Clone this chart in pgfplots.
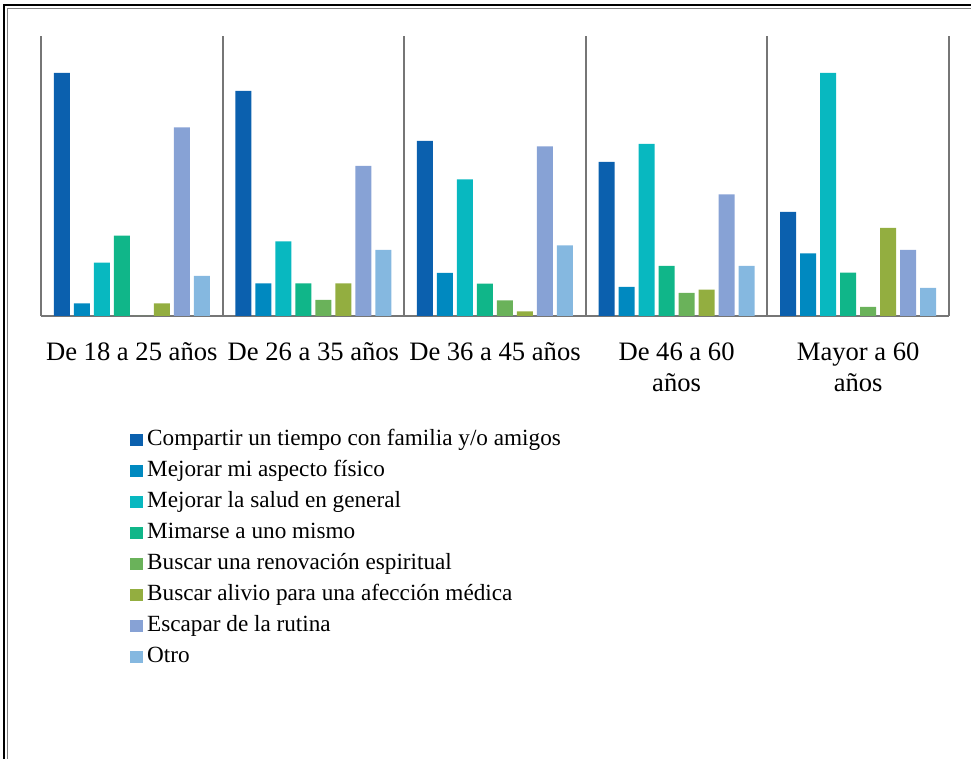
\documentclass[border=0pt]{standalone}
\usepackage{pgfplots}
\pgfplotsset{compat=1.18}
\usepackage{fontspec}
\setmainfont{Liberation Serif}

\definecolor{cA}{HTML}{0B60AE}
\definecolor{cB}{HTML}{0089C0}
\definecolor{cC}{HTML}{08B8C0}
\definecolor{cD}{HTML}{10B689}
\definecolor{cE}{HTML}{6AB25A}
\definecolor{cF}{HTML}{93AE40}
\definecolor{cG}{HTML}{87A2D5}
\definecolor{cH}{HTML}{85B8E0}
\definecolor{sep}{HTML}{767676}

\begin{document}
\begin{tikzpicture}
% page area and frame
\path[use as bounding box] (0pt,0pt) rectangle (485.5pt,379.5pt);
\draw[black,line width=0.8pt] (2pt,0pt) -- (2pt,377pt) -- (485.5pt,377pt);
\draw[gray,line width=0.6pt] (3.75pt,0pt) -- (3.75pt,375.25pt) -- (485.5pt,375.25pt);

\begin{axis}[
  at={(20.5pt,221.5pt)}, anchor=south west,
  scale only axis, width=454pt, height=140pt,
  ybar=2pt, bar width=8pt,
  xmin=-0.5, xmax=4.5, ymin=0, ymax=28,
  axis x line*=bottom, axis y line=none,
  x axis line style={sep, line width=1pt, -},
  xtick={0,...,4},
  xticklabels={De 18 a 25 años, De 26 a 35 años, De 36 a 45 años,
               De 46 a 60\\años, Mayor a 60\\años},
  xticklabel style={align=center, font=\fontsize{13.3}{15.5}\selectfont, anchor=north, yshift=-10pt},
  major tick length=0pt,
  minor xtick={-0.5,0.5,...,4.5},
  minor tick length=0pt,
  xminorgrids, minor grid style={sep, line width=1pt},
  ytick=\empty,
  clip=false,
  legend cell align=left,
  legend style={at={(rel axis cs:0.098,-0.404)}, anchor=north west,
    draw=none, fill=none, inner sep=0pt, row sep=5pt,
    font=\fontsize{11.6}{13}\selectfont,
    nodes={inner sep=0pt, text height=8pt, text depth=2.5pt}},
  legend image code/.code={\fill[#1,draw=none] (0pt,-3.2pt) rectangle (6.4pt,3.2pt);},
  /tikz/every odd column/.append style={column sep=2pt},
]
\addplot[fill=cA,draw=none] coordinates {(0,24.3) (1,22.5) (2,17.5) (3,15.4) (4,10.4)};
\addplot[fill=cB,draw=none] coordinates {(0,1.27) (1,3.27) (2,4.3) (3,2.9) (4,6.27)};
\addplot[fill=cC,draw=none] coordinates {(0,5.33) (1,7.47) (2,13.67) (3,17.2) (4,24.3)};
\addplot[fill=cD,draw=none] coordinates {(0,8.03) (1,3.27) (2,3.23) (3,5.0) (4,4.33)};
\addplot[fill=cE,draw=none] coordinates {(0,0) (1,1.6) (2,1.57) (3,2.3) (4,0.9)};
\addplot[fill=cF,draw=none] coordinates {(0,1.27) (1,3.27) (2,0.47) (3,2.63) (4,8.8)};
\addplot[fill=cG,draw=none] coordinates {(0,18.87) (1,15.0) (2,16.97) (3,12.17) (4,6.6)};
\addplot[fill=cH,draw=none] coordinates {(0,4.0) (1,6.6) (2,7.07) (3,5.0) (4,2.8)};
\legend{Compartir un tiempo con familia y/o amigos,
        Mejorar mi aspecto físico,
        Mejorar la salud en general,
        Mimarse a uno mismo,
        Buscar una renovación espiritual,
        Buscar alivio para una afección médica,
        Escapar de la rutina,
        Otro}
\end{axis}
\end{tikzpicture}
\end{document}
